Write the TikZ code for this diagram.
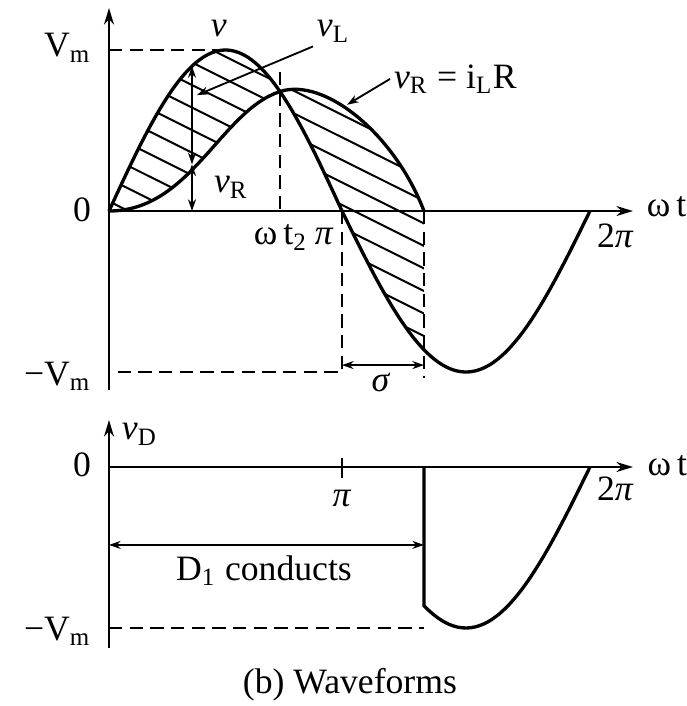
\documentclass[tikz,border=0pt]{standalone}
\usepackage{fontspec}
\setmainfont{Liberation Serif}
\usetikzlibrary{arrows.meta}

\begin{document}
\begin{tikzpicture}[x=22.25pt,y=48.3pt,
	every node/.style={font=\fontsize{10.7}{12}\selectfont,inner sep=1pt},
	courbe/.style={line width=1pt},
	axe/.style={line width=0.6pt,-{Stealth[length=5pt,width=3pt]}},
	tirets/.style={line width=0.6pt,dash pattern=on 4pt off 2.2pt},
	cote/.style={line width=0.55pt,{Stealth[length=3.5pt,width=2.4pt]}-{Stealth[length=3.5pt,width=2.4pt]}},
	fleche/.style={line width=0.55pt,-{Stealth[length=3.5pt,width=2.4pt]}},
	hach/.style={line width=0.6pt}]
		\useasboundingbox (-1.4696,-3.0745) rectangle (7.793,1.3106);
		%axes du haut
		\draw[axe] (0,-1.112) -- (0,1.261);
		\draw[axe] (0,0) -- (7.065,0);
		%hachures (v_L)
		\begin{scope}
			\clip plot[domain=0:pi,samples=40] (\x,{sin(\x r)}) -- plot[domain=pi:4.247,samples=20] (\x,{-sin(((\x-pi)*0.9396) r)}) -- (4.247,0) .. controls (3.847,0.48) and (2.9055,0.832) .. (2.3055,0.742) .. controls (1.5055,0.622) and (1.1,0) .. (0,0) -- cycle;
			\foreach \c in {0.06,0.2,...,1.5}
				\draw[hach] (-0.2,\c+0.046) -- (4.5,\c-1.035);
		\end{scope}
		%courbes v et v_R
		\draw[courbe] plot[domain=0:pi,samples=60] (\x,{sin(\x r)}) -- plot[domain=pi:6.485,samples=60] (\x,{-sin(((\x-pi)*0.9396) r)});
		\draw[courbe] (0,0) .. controls (1.1,0) and (1.5055,0.622) .. (2.3055,0.742) .. controls (2.9055,0.832) and (3.847,0.48) .. (4.247,0);
		%pointilles
		\draw[tirets] (0,1) -- (1.45,1);
		\draw[tirets] (2.3055,0.863) -- (2.3055,0);
		\draw[tirets] (pi,0) -- (pi,-1) -- (0,-1);
		\draw[tirets] (4.247,0) -- (4.247,-1.037);
		%cotes
		\draw[cote] (1.119,{sin(1.119 r)}) -- (1.119,0.29);
		\draw[cote] (1.119,0.29) -- (1.119,0);
		\draw[cote] (pi,-0.957) -- (4.247,-0.957);
		%etiquettes
		\node[anchor=base east] (zero) at (-0.189,-0.068) {0};
		\node[anchor=base east] (Vm) at (-0.189,0.957) {V\textsubscript{m}};
		\node[anchor=base east] (mVm) at (-0.189,-1.081) {−V\textsubscript{m}};
		\node[anchor=base west] (wt) at (7.2,-0.037) {ω\,t};
		\node[anchor=base west] (deuxpi) at (6.526,-0.224) {2\textit{π}};
		\node[anchor=base west] (wt2) at (1.901,-0.211) {ω\,t\textsubscript{2}};
		\node[anchor=base west] (pi1) at (2.723,-0.211) {\textit{π}};
		\node[anchor=base] (sigma) at (3.667,-1.124) {\textit{σ}};
		\node[anchor=base west] (v) at (1.321,1.081) {\textit{v}};
		\node[anchor=base west] (vL) at (2.750,1.081) {\textit{v}\textsubscript{L}};
		\node[anchor=base west] (vR) at (1.362,0.112) {\textit{v}\textsubscript{R}};
		\node[anchor=base west] (vRiL) at (3.789,0.764) {\textit{v}\textsubscript{R} = i\textsubscript{L}R};
		\coordinate (pointeL) at (1.186,0.720);
		\coordinate (pointeR) at (3.209,0.66);
		\draw[fleche] (vL.south west) -- (pointeL);
		\draw[fleche] (vRiL.west) -- (pointeR);
		%graphe du bas (v_D)
		\begin{scope}[shift={(0,-1.59)}]
			\draw[axe] (0,-1.124) -- (0,0.292);
			\draw[axe] (0,0) -- (7.065,0);
			\draw[line width=0.6pt] (pi,0.056) -- (pi,-0.068);
			\draw[courbe] (4.247,0) -- plot[domain=4.247:6.485,samples=40] (\x,{-sin(((\x-pi)*0.9396) r)});
			\draw[tirets] (0,-1) -- (4.247,-1);
			\draw[cote] (0,-0.484) -- (4.247,-0.484);
			\node[anchor=base east] (zeroD) at (-0.189,-0.062) {0};
			\node[anchor=base east] (mVmD) at (-0.189,-1.075) {−V\textsubscript{m}};
			\node[anchor=base west] (vD) at (0.121,0.168) {\textit{v}\textsubscript{D}};
			\node[anchor=base west] (wtD) at (7.21,-0.05) {ω\,t};
			\node[anchor=base] (piD) at (pi,-0.248) {\textit{π}};
			\node[anchor=base west] (deuxpiD) at (6.526,-0.205) {2\textit{π}};
			\node[anchor=base] (conduit) at (2.09,-0.702) {D\textsubscript{1} conducts};
		\end{scope}
		\node[anchor=base] (legende) at (3.249,-2.994) {(b) Waveforms};
\end{tikzpicture}
\end{document}
